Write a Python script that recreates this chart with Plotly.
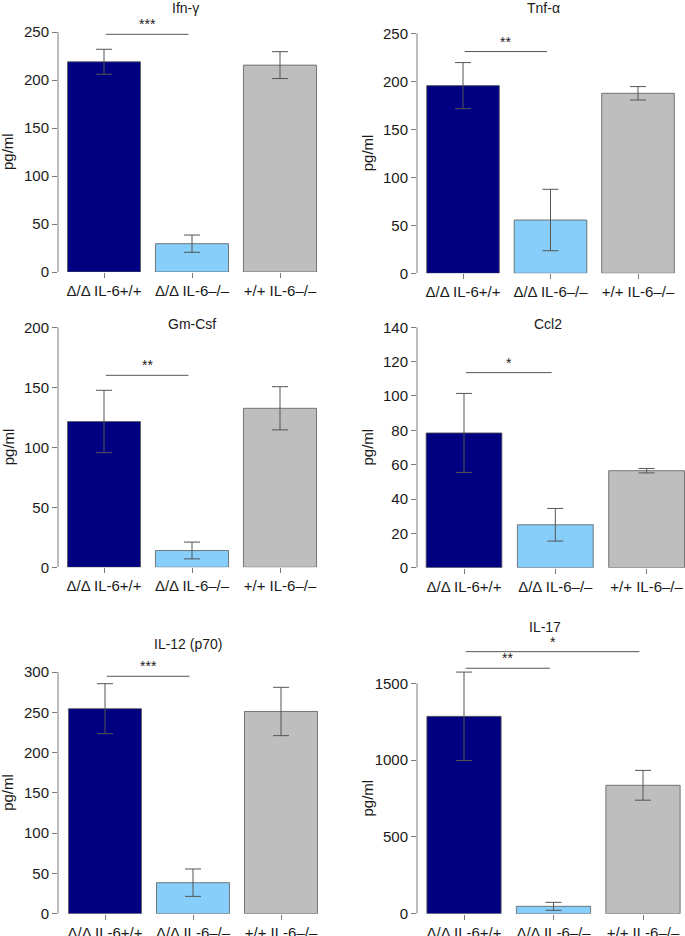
import plotly.graph_objects as go

# ---------------- data ----------------
groups = ["Δ/Δ IL-6+/+", "Δ/Δ IL-6–/–", "+/+ IL-6–/–"]
titles = ["Ifn-γ", "Tnf-α", "Gm-Csf", "Ccl2", "IL-12 (p70)", "IL-17"]

ifn_mean = [219, 29.5, 215.5]
ifn_err = [13, 9, 14]
tnf_mean = [195.5, 55.5, 187.5]
tnf_err = [24, 32, 7]
gm_mean = [121.5, 14, 132.5]
gm_err = [26, 7, 18]
ccl2_mean = [78.5, 25, 56.5]
ccl2_err = [23, 9.5, 1.3]
il12_mean = [254.5, 38.5, 251]
il12_err = [31, 17, 30]
il17_mean = [1285, 48, 836]
il17_err = [288, 26, 97]

ifn_ticks = [0, 50, 100, 150, 200, 250]
tnf_ticks = [0, 50, 100, 150, 200, 250]
gm_ticks = [0, 50, 100, 150, 200]
ccl2_ticks = [0, 20, 40, 60, 80, 100, 120, 140]
il12_ticks = [0, 50, 100, 150, 200, 250, 300]
il17_ticks = [0, 500, 1000, 1500]

# significance brackets: (from group, to group, height, label)
ifn_sig = [(0, 1, 247.6, "***")]
tnf_sig = [(0, 1, 231, "**")]
gm_sig = [(0, 1, 160, "**")]
ccl2_sig = [(0, 1, 113.6, "*")]
il12_sig = [(0, 1, 294.7, "***")]
il17_sig = [(0, 1, 1598, "**"), (0, 2, 1706, "*")]

means = [ifn_mean, tnf_mean, gm_mean, ccl2_mean, il12_mean, il17_mean]
errs = [ifn_err, tnf_err, gm_err, ccl2_err, il12_err, il17_err]
ticks = [ifn_ticks, tnf_ticks, gm_ticks, ccl2_ticks, il12_ticks, il17_ticks]
sigs = [ifn_sig, tnf_sig, gm_sig, ccl2_sig, il12_sig, il17_sig]

# ---------------- style / layout geometry (pixels) ----------------
W, H = 685, 936
bar_colors = ["#000080", "#87CEFA", "#BEBEBE"]
axis_col = "#7a7a7a"
err_col = "#555555"
txt_col = "#1a1a1a"
FONT = "Liberation Sans, Arial, Helvetica, sans-serif"

# ax_x, right, first centre, spacing, y0 px, top tick px, domain top px, title x, title y
geom = [
    dict(ax=58, right=330, c0=104, sp=88, y0=272, yt=32, top=0, tx=185, ty=8),
    dict(ax=417, right=685, c0=463, sp=87.5, y0=273.3, yt=33.3, top=0, tx=543, ty=8),
    dict(ax=58, right=330, c0=104, sp=88, y0=567.3, yt=327.3, top=300, tx=192, ty=324),
    dict(ax=417, right=685, c0=464, sp=91.3, y0=567.7, yt=327.3, top=300, tx=548, ty=324),
    dict(ax=58, right=330, c0=105, sp=88, y0=913.7, yt=672, top=630, tx=188, ty=644),
    dict(ax=417, right=685, c0=464, sp=89.5, y0=913.7, yt=683.3, top=610, tx=545, ty=627),
]

fig = go.Figure()
layout = dict(
    width=W, height=H, autosize=False,
    margin=dict(l=0, r=0, t=0, b=0, autoexpand=False),
    paper_bgcolor="white", plot_bgcolor="white",
    showlegend=False,
    font=dict(family=FONT, size=15, color=txt_col),
)
shapes = []
annotations = []

for k in range(6):
    g = geom[k]
    sfx = "" if k == 0 else str(k + 1)
    xa, ya = "x" + sfx, "y" + sfx
    xr = [(g["ax"] - g["c0"]) / g["sp"], (g["right"] - g["c0"]) / g["sp"]]
    maxt = ticks[k][-1]
    ppu = (g["y0"] - g["yt"]) / maxt
    yr = [0, (g["y0"] - g["top"]) / ppu]

    fig.add_trace(go.Bar(
        x=[0, 1, 2], y=means[k],
        width=0.83,
        marker=dict(color=bar_colors, line=dict(color="#5a5a5a", width=0.8)),
        error_y=dict(type="data", array=errs[k], visible=True,
                     color=err_col, thickness=1, width=8),
        xaxis=xa, yaxis=ya, hoverinfo="skip",
    ))

    layout["xaxis" + sfx] = dict(
        domain=[g["ax"] / W, g["right"] / W], range=xr, anchor=ya,
        tickvals=[0, 1, 2], ticktext=groups,
        ticks="outside", ticklen=5, tickwidth=1, tickcolor=axis_col,
        showline=False, showgrid=False, zeroline=False, automargin=False,
        tickfont=dict(size=15, color=txt_col, family=FONT),
        fixedrange=True,
    )
    layout["yaxis" + sfx] = dict(
        domain=[1 - g["y0"] / H, 1 - g["top"] / H], range=yr, anchor=xa,
        tickvals=ticks[k], ticktext=[str(t) for t in ticks[k]],
        ticks="outside", ticklen=5, tickwidth=1, tickcolor=axis_col,
        showline=False, showgrid=False, zeroline=False, automargin=False,
        tickfont=dict(size=15, color=txt_col, family=FONT),
        fixedrange=True,
    )

    # R-style y axis line spanning only the tick range
    shapes.append(dict(type="line", xref=xa + " domain", yref=ya,
                       x0=0, x1=0, y0=0, y1=maxt,
                       line=dict(color=axis_col, width=1)))

    # significance brackets
    for (i, j, h, lab) in sigs[k]:
        x0, x1 = i + 0.02, j - 0.04
        shapes.append(dict(type="line", xref=xa, yref=ya,
                           x0=x0, x1=x1, y0=h, y1=h,
                           line=dict(color=err_col, width=1)))
        annotations.append(dict(x=(x0 + x1) / 2, y=h, xref=xa, yref=ya,
                                text=lab, showarrow=False,
                                yanchor="bottom", xanchor="center",
                                font=dict(size=14, color=txt_col, family=FONT)))

    # panel title
    annotations.append(dict(x=g["tx"] / W, y=1 - g["ty"] / H, xref="paper", yref="paper",
                            text=titles[k], showarrow=False,
                            xanchor="center", yanchor="middle",
                            font=dict(size=14, color=txt_col, family=FONT)))
    # y-axis title
    annotations.append(dict(x=(g["ax"] - 50) / W, y=1 - (g["y0"] + g["yt"]) / 2 / H,
                            xref="paper", yref="paper", text="pg/ml",
                            showarrow=False, textangle=-90,
                            xanchor="center", yanchor="middle",
                            font=dict(size=15, color=txt_col, family=FONT)))

layout["shapes"] = shapes
layout["annotations"] = annotations
fig.update_layout(**layout)
fig.write_html("out.html",
               config={"displayModeBar": False, "staticPlot": True},
               post_script="document.body.style.margin='0';document.body.style.overflow='hidden';")
